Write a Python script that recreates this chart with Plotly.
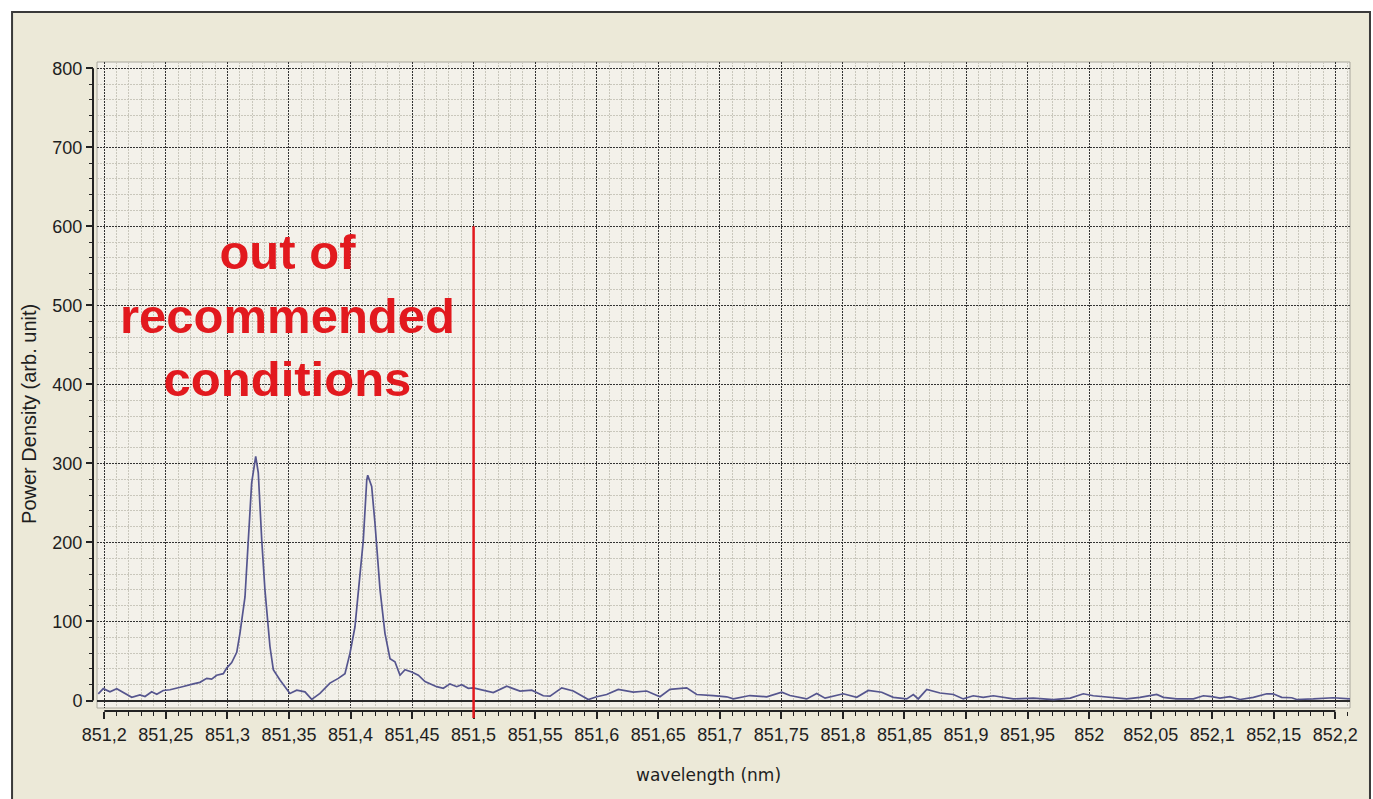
import plotly.graph_objects as go

# Measured spectrum: wavelength (nm) and power density (arb. unit)
wavelength = [
    851.1951, 851.1992, 851.2046, 851.2101, 851.2223, 851.2290, 851.2331, 851.2385,
    851.2426, 851.2479, 851.2534, 851.2588, 851.2642, 851.2723, 851.2777, 851.2832,
    851.2872, 851.2913, 851.2967, 851.2994, 851.3035, 851.3076, 851.3102, 851.3143,
    851.3170, 851.3197, 851.3230, 851.3251, 851.3279, 851.3305, 851.3346, 851.3373,
    851.3427, 851.3508, 851.3563, 851.3630, 851.3685, 851.3752, 851.3833, 851.3901,
    851.3955, 851.3996, 851.4036, 851.4077, 851.4104, 851.4132, 851.4140, 851.4172,
    851.4199, 851.4240, 851.4280, 851.4321, 851.4361, 851.4402, 851.4443, 851.4497,
    851.4551, 851.4605, 851.4700, 851.4754, 851.4808, 851.4863, 851.4903, 851.4957,
    851.4998, 851.5160, 851.5269, 851.5377, 851.5472, 851.5566, 851.5621, 851.5716,
    851.5810, 851.5932, 851.6000, 851.6081, 851.6175, 851.6297, 851.6406, 851.6514,
    851.6595, 851.6731, 851.6812, 851.6947, 851.7056, 851.7110, 851.7245, 851.7381,
    851.7503, 851.7570, 851.7706, 851.7787, 851.7855, 851.8003, 851.8112, 851.8206,
    851.8315, 851.8409, 851.8518, 851.8572, 851.8612, 851.8681, 851.8789, 851.8897,
    851.8978, 851.9059, 851.9140, 851.9222, 851.9384, 851.9547, 851.9709, 851.9847,
    851.9953, 852.0034, 852.0197, 852.0305, 852.0413, 852.0495, 852.0549, 852.0603,
    852.0712, 852.0847, 852.0928, 852.0996, 852.1063, 852.1144, 852.1226, 852.1334,
    852.1443, 852.1496, 852.1564, 852.1646, 852.1686, 852.1821, 852.1984, 852.2119,
]
power_density = [
    8.5, 15, 11, 15, 4, 7, 5, 11,
    8, 12.7, 13.6, 16, 17.7, 21, 23, 28,
    27, 32, 34, 41, 48, 61, 85, 131,
    203, 275, 309, 288, 203, 140, 68, 39,
    26, 9, 13, 11, 1.5, 9, 22, 28,
    34, 60, 93, 161, 203, 279, 285, 271,
    224, 140, 85, 53, 49, 32, 39, 36,
    32, 24, 17.5, 15.5, 21, 17.5, 20, 15.5,
    16, 10, 18, 12, 13, 6, 5.5, 16,
    12, 1.3, 4.7, 7.6, 14, 10.5, 12, 4.7,
    14, 16, 7.6, 6.3, 4.7, 2, 6.3, 4.7,
    10.5, 6.3, 2, 9, 3, 8.5, 4, 12.7,
    10.5, 4, 2, 7.6, 2, 14, 9.5, 7.6,
    2, 6, 4, 6, 2, 3, 1, 3,
    8.5, 6, 4, 2, 4, 6, 7.6, 4,
    2, 2, 6, 5, 3, 5, 1.3, 4,
    8.5, 8.5, 4, 3.5, 1.3, 2, 3.5, 2,
]

x_tick_labels = ["851,2", "851,25", "851,3", "851,35", "851,4", "851,45", "851,5",
                 "851,55", "851,6", "851,65", "851,7", "851,75", "851,8", "851,85",
                 "851,9", "851,95", "852", "852,05", "852,1", "852,15", "852,2"]
y_tick_labels = ["0", "100", "200", "300", "400", "500", "600", "700", "800"]

limit_wavelength = 851.5      # upper end of the out-of-range region
limit_line_top = 600          # height of the red marker line
warning_text = ["out of", "recommended", "conditions"]
warning_pos = (851.349, 487)

x_tick_vals = [float(s.replace(",", ".")) for s in x_tick_labels]
y_tick_vals = [float(s) for s in y_tick_labels]

BEIGE = "#ECE9D8"
PLOT_BG = "#F3F1EA"
MAJOR_GRID = "#333333"
MINOR_GRID = "#C9C7BC"
TEXT = "#1E1E1E"
RED = "#E2191E"
LINE = "#55558E"

fig = go.Figure()

fig.add_trace(go.Scatter(
    x=wavelength, y=power_density, mode="lines",
    line=dict(color=LINE, width=1.7),
    showlegend=False, hoverinfo="x+y",
))

# Window frame and plot-area background
fig.add_shape(type="rect", xref="paper", yref="paper",
              x0=-0.0644, x1=1.0159, y0=-0.25, y1=1.077,
              fillcolor=BEIGE, line=dict(color="#3A3A3A", width=2), layer="below")
fig.add_shape(type="rect", xref="x domain", yref="y domain",
              x0=0, x1=1, y0=0, y1=1,
              fillcolor=PLOT_BG, line=dict(color="#A8A69C", width=1), layer="below")

# Axis lines spanning the tick range only
fig.add_shape(type="line", xref="x", yref="paper",
              x0=x_tick_vals[0], x1=x_tick_vals[-1], y0=0, y1=0,
              line=dict(color="#222222", width=2))
fig.add_shape(type="line", xref="paper", yref="y",
              x0=0, x1=0, y0=y_tick_vals[0], y1=y_tick_vals[-1],
              line=dict(color="#222222", width=2))

# Red limit marker
fig.add_shape(type="line", xref="x", yref="y",
              x0=limit_wavelength, x1=limit_wavelength, y0=-9.5, y1=limit_line_top,
              line=dict(color=RED, width=2.5))
fig.add_shape(type="line", xref="x", yref="paper",
              x0=limit_wavelength, x1=limit_wavelength, y0=-0.011, y1=0.005,
              line=dict(color=RED, width=2.5))

fig.add_annotation(
    x=warning_pos[0], y=warning_pos[1], xref="x", yref="y",
    text="<br>".join(warning_text), showarrow=False,
    font=dict(family="Liberation Sans, Arial, sans-serif", size=49, color=RED, weight="bold"),
    align="center", xanchor="center", yanchor="middle",
)

# Axis titles
fig.add_annotation(
    x=-0.051, y=0.4576, xref="paper", yref="paper",
    text="Power Density (arb. unit)", textangle=-90, showarrow=False,
    font=dict(family="Liberation Sans, Arial, sans-serif", size=20, color=TEXT),
    xanchor="center", yanchor="middle",
)
fig.add_annotation(
    x=0.49, y=-0.0986, xref="paper", yref="paper",
    text="wavelength (nm)", showarrow=False,
    font=dict(family="DejaVu Sans, Verdana, sans-serif", size=17, color=TEXT),
    xanchor="center", yanchor="middle",
)

tick_font = dict(family="Liberation Sans, Arial, sans-serif", size=18, color=TEXT)

fig.update_layout(
    width=1373, height=799,
    margin=dict(l=93, r=23, t=62, b=88, pad=0),
    paper_bgcolor="white",
    plot_bgcolor="rgba(0,0,0,0)",
    showlegend=False,
    xaxis=dict(
        domain=[0.0032, 1], anchor="free", position=0,
        range=[851.1941, 852.2119],
        tickmode="array", tickvals=x_tick_vals, ticktext=x_tick_labels,
        ticks="outside", ticklen=7, tickwidth=1.5, tickcolor="#222222",
        tickfont=tick_font,
        showline=False, zeroline=False,
        showgrid=True, gridcolor=MAJOR_GRID, gridwidth=1, griddash="2px,1px",
        minor=dict(dtick=0.01, tick0=851.2, ticks="outside", ticklen=4,
                   tickwidth=1.2, tickcolor="#222222",
                   showgrid=True, gridcolor=MINOR_GRID, gridwidth=1),
    ),
    yaxis=dict(
        domain=[0.0046, 1], anchor="free", position=0,
        range=[-9.5, 808],
        tickmode="array", tickvals=y_tick_vals, ticktext=y_tick_labels,
        ticks="outside", ticklen=7, tickwidth=1.5, tickcolor="#222222",
        tickfont=tick_font,
        showline=False,
        zeroline=True, zerolinecolor="#2A2A2A", zerolinewidth=1.5,
        showgrid=True, gridcolor=MAJOR_GRID, gridwidth=1, griddash="2px,1px",
        minor=dict(dtick=20, tick0=0, ticks="outside", ticklen=4,
                   tickwidth=1.2, tickcolor="#222222",
                   showgrid=True, gridcolor=MINOR_GRID, gridwidth=1),
    ),
)

fig.write_html("out.html")
